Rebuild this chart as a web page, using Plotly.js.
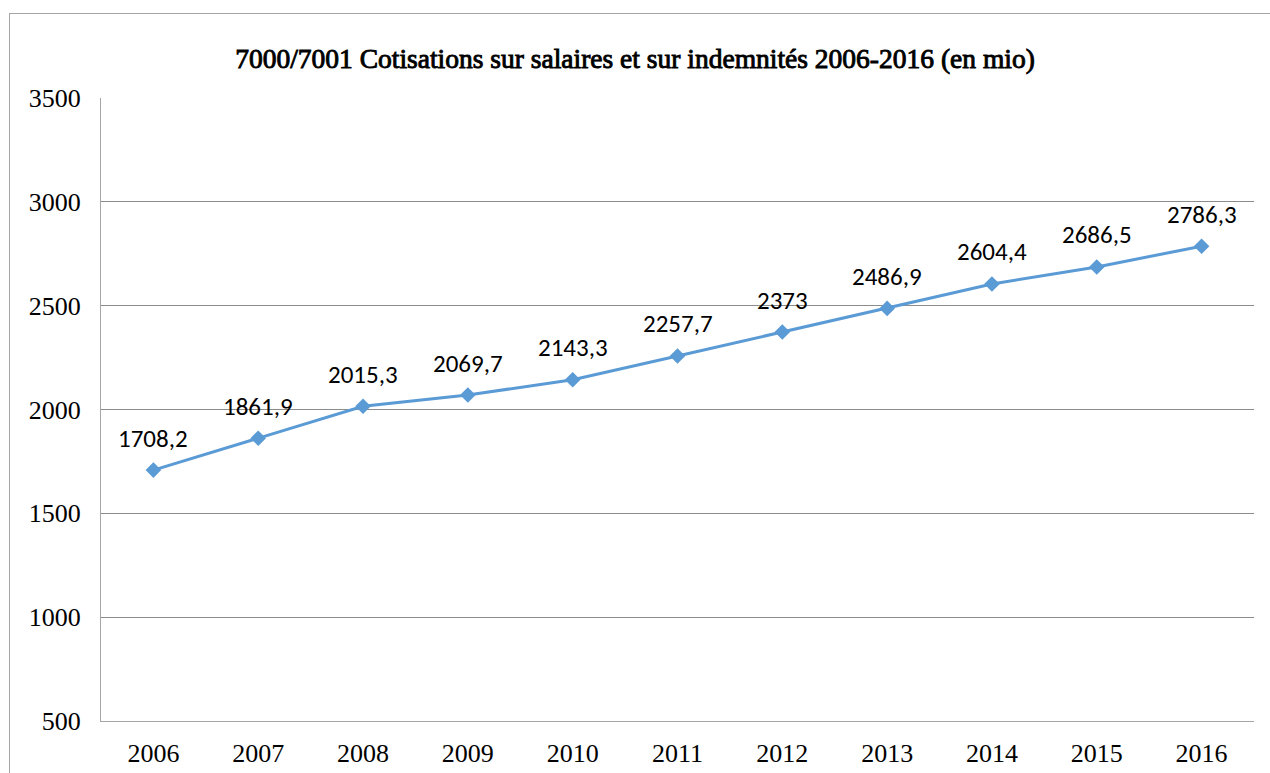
<!DOCTYPE html>
<html>
<head>
<meta charset="utf-8">
<script src="https://cdn.plot.ly/plotly-3.0.1.min.js"></script>
<style>
html,body{margin:0;padding:0;background:#fff;}
#wrap{position:relative;width:1270px;height:773px;overflow:hidden;}
#frame{position:absolute;left:9px;top:13px;width:1300px;height:800px;border:1.5px solid #a6a6a6;box-sizing:border-box;pointer-events:none;}
#chart{position:absolute;left:0;top:0;width:1270px;height:773px;}
#chart .gtitle{stroke:#000;stroke-width:0.9px;}
</style>
</head>
<body>
<div id="wrap">
<div id="chart"></div>
<div id="frame"></div>
</div>
<script>
const years = ['2006','2007','2008','2009','2010','2011','2012','2013','2014','2015','2016'];
const values = [1708.2, 1861.9, 2015.3, 2069.7, 2143.3, 2257.7, 2373, 2486.9, 2604.4, 2686.5, 2786.3];
const yTicks = [500, 1000, 1500, 2000, 2500, 3000, 3500];
const titleText = '7000/7001 Cotisations sur salaires et sur indemnités 2006-2016 (en mio)';

const labels = values.map(v => String(v).replace('.', ','));
const serif = '"Liberation Serif", "Times New Roman", serif';
const sans = 'Carlito, Lato, "Open Sans", "Liberation Sans", sans-serif';

const trace = {
  x: years,
  y: values,
  type: 'scatter',
  mode: 'lines+markers',
  line: {color: '#5B9BD5', width: 3},
  marker: {symbol: 'diamond', size: 12, color: '#5B9BD5'},
  cliponaxis: false,
  hoverinfo: 'skip'
};

const annotations = years.map((yr, i) => ({
  x: i, y: values[i], xref: 'x', yref: 'y',
  text: labels[i], showarrow: false,
  yshift: 32,
  font: {family: sans, size: 25, color: '#000'}
}));

const layout = {
  width: 1270,
  height: 773,
  margin: {l: 101, r: 16, t: 98, b: 52},
  paper_bgcolor: 'rgba(0,0,0,0)',
  plot_bgcolor: '#fff',
  showlegend: false,
  annotations: annotations,
  title: {
    text: titleText,
    font: {family: serif, size: 27.5, color: '#000'},
    x: 0.5, xanchor: 'center', y: 0.925, yanchor: 'middle'
  },
  xaxis: {
    type: 'category',
    range: [-0.5, years.length - 0.5],
    showgrid: false,
    showline: true,
    linecolor: '#a6a6a6',
    linewidth: 1,
    ticks: '',
    tickfont: {family: serif, size: 26, color: '#000'},
    ticklabelstandoff: 9,
    fixedrange: true
  },
  yaxis: {
    range: [500, 3500],
    tickvals: yTicks,
    ticktext: yTicks.map(String),
    showgrid: true,
    gridcolor: '#8c8c8c',
    gridwidth: 1,
    showline: true,
    linecolor: '#a6a6a6',
    linewidth: 1,
    zeroline: false,
    ticks: '',
    ticklabelstandoff: 14,
    tickfont: {family: serif, size: 26, color: '#000'},
    fixedrange: true
  }
};

Plotly.newPlot('chart', [trace], layout, {displayModeBar: false, staticPlot: true});
</script>
</body>
</html>
